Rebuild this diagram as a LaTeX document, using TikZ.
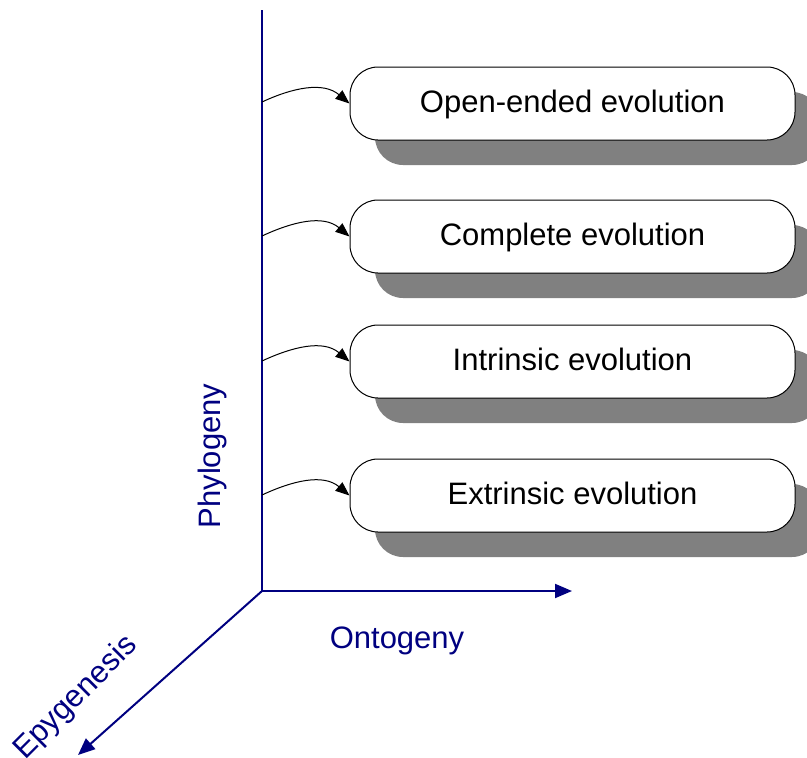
\documentclass[tikz,border=0pt]{standalone}
\usepackage{fontspec}
\setmainfont{Liberation Sans}
\usetikzlibrary{arrows.meta,shadows}
\definecolor{axisblue}{HTML}{000080}
\definecolor{shadowgray}{HTML}{808080}
\begin{document}
\begin{tikzpicture}[x=1pt,y=1pt,
  axis/.style={draw=axisblue,line width=2pt,-{Triangle[length=17pt,width=14pt]}},
  axislabel/.style={text=axisblue,font=\fontsize{31}{37}\selectfont},
  evobox/.style={draw=black,line width=1pt,fill=white,rounded corners=28pt,
    minimum width=445pt,minimum height=73pt,inner sep=0pt,
    text height=24pt,text depth=6pt,
    font=\fontsize{31}{37}\selectfont,
    general shadow={fill=shadowgray,shadow xshift=25pt,shadow yshift=-25pt}},
  link/.style={draw=black,line width=1pt,-{Triangle[length=14pt,width=11pt]}}]
\useasboundingbox (0,0) rectangle (807,-758);
\clip (0,0) rectangle (807,-758);

% axes
\coordinate (O) at (262,-591);
\coordinate (top) at (262,-10);
\coordinate (ont) at (572,-591);
\coordinate (epi) at (78,-755);
\draw[draw=axisblue,line width=2pt] (O) -- (top);
\draw[axis] (O) -- (ont);
\draw[axis] (O) -- (epi);

\node[axislabel,rotate=90] (phy) at (212,-456) {Phylogeny};
\node[axislabel] (ontl) at (397,-641) {Ontogeny};
\node[axislabel,rotate=45] (epil) at (76,-698) {Epygenesis};

% evolution levels
\node[evobox] (b1) at (572.5,-103.5) {Open-ended evolution};
\node[evobox] (b2) at (572.5,-236.5) {Complete evolution};
\node[evobox] (b3) at (572.5,-361.5) {Intrinsic evolution};
\node[evobox] (b4) at (572.5,-495.5) {Extrinsic evolution};

% links from the phylogeny axis
\coordinate (s1) at (262,-102);
\coordinate (s2) at (262,-236);
\coordinate (s3) at (262,-361);
\coordinate (s4) at (262,-495);
\foreach \i in {1,2,3,4}
  \draw[link] (s\i) to[out=25,in=140] (b\i.west);
\end{tikzpicture}
\end{document}
